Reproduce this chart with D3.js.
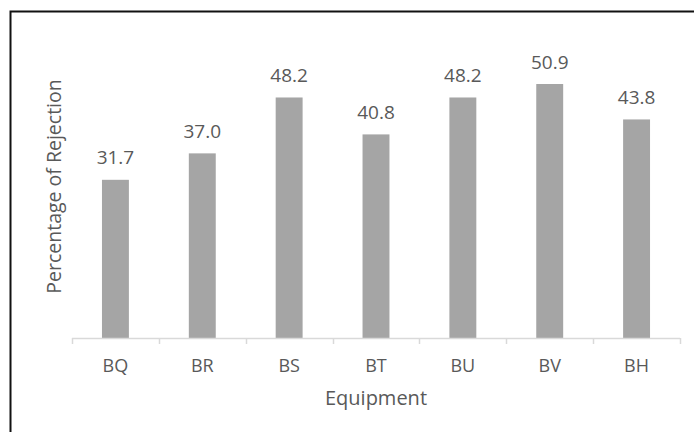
<!DOCTYPE html>
<html>
<head>
<meta charset="utf-8">
<script src="https://cdn.jsdelivr.net/npm/d3@7"></script>
<style>
  html, body { margin: 0; padding: 0; background: #fff; }
  svg { display: block; }
  text { font-family: "Open Sans", "Noto Sans", sans-serif; fill: #595959; }
</style>
</head>
<body>
<svg id="chart" width="694" height="432"></svg>
<script>
// Rejection percentage per equipment
const categories = ["BQ", "BR", "BS", "BT", "BU", "BV", "BH"];
const rejection = [31.7, 37.0, 48.2, 40.8, 48.2, 50.9, 43.8];
const yDomain = [0, 60];

const svg = d3.select("#chart");
const W = 694, H = 432;

// Frame around the figure (runs off the right and bottom edges)
svg.append("rect")
  .attr("x", 10.5).attr("y", 11.5)
  .attr("width", W + 10).attr("height", H + 10)
  .attr("fill", "none")
  .attr("stroke", "#111")
  .attr("stroke-width", 2);

const plot = { left: 72, right: 680, top: 38.6, bottom: 338 };

const x = d3.scaleBand()
  .domain(categories)
  .range([plot.left, plot.right])
  .paddingInner(0.69)
  .paddingOuter(0.345);

const y = d3.scaleLinear()
  .domain(yDomain)
  .range([plot.bottom, plot.top]);

// Bars
svg.append("g").selectAll("rect")
  .data(categories)
  .join("rect")
  .attr("x", d => x(d))
  .attr("y", (d, i) => y(rejection[i]))
  .attr("width", x.bandwidth())
  .attr("height", (d, i) => y(0) - y(rejection[i]))
  .attr("fill", "#a5a5a5");

// Value labels
svg.append("g").selectAll("text")
  .data(categories)
  .join("text")
  .attr("x", d => x(d) + x.bandwidth() / 2)
  .attr("y", (d, i) => y(rejection[i]) - 15.5)
  .attr("text-anchor", "middle")
  .attr("font-size", 19)
  .text((d, i) => rejection[i].toFixed(1));

// Category axis with boundary ticks
const xAxis = svg.append("g")
  .attr("transform", `translate(0,${plot.bottom})`);

xAxis.append("line")
  .attr("x1", plot.left).attr("x2", plot.right)
  .attr("y1", 0.5).attr("y2", 0.5)
  .attr("stroke", "#d9d9d9").attr("stroke-width", 1.5);

const step = x.step();
const boundaries = d3.range(categories.length + 1).map(i => plot.left + i * step);
xAxis.selectAll("line.tick")
  .data(boundaries)
  .join("line")
  .attr("class", "tick")
  .attr("x1", d => Math.round(d) + 0.5).attr("x2", d => Math.round(d) + 0.5)
  .attr("y1", 0).attr("y2", 6)
  .attr("stroke", "#d9d9d9").attr("stroke-width", 1.5);

xAxis.selectAll("text")
  .data(categories)
  .join("text")
  .attr("x", d => x(d) + x.bandwidth() / 2)
  .attr("y", 33.5)
  .attr("text-anchor", "middle")
  .attr("font-size", 18)
  .text(d => d);

// Axis titles
svg.append("text")
  .attr("x", (plot.left + plot.right) / 2)
  .attr("y", 405)
  .attr("text-anchor", "middle")
  .attr("font-size", 20)
  .text("Equipment");

svg.append("text")
  .attr("transform", "translate(61,186.5) rotate(-90)")
  .attr("text-anchor", "middle")
  .attr("font-size", 19.5)
  .text("Percentage of Rejection");
</script>
</body>
</html>
